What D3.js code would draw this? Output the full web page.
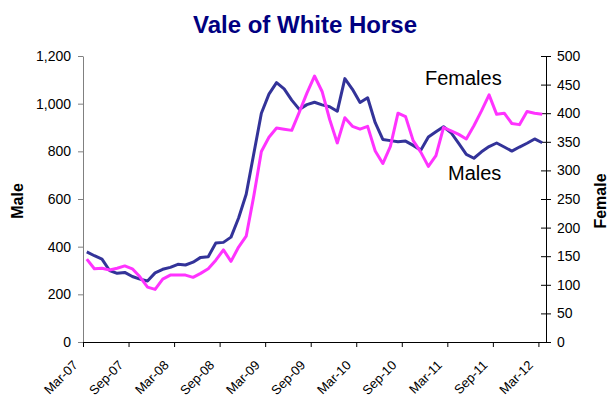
<!DOCTYPE html>
<html>
<head>
<meta charset="utf-8">
<script src="https://cdn.jsdelivr.net/npm/d3@7"></script>
<style>
  body { margin: 0; background: #fff; }
  text { font-family: "Liberation Sans", Arial, sans-serif; }
</style>
</head>
<body>
<div id="chart"></div>
<script>
var width = 615, height = 403;
var plot = {left: 83, right: 546, top: 56, bottom: 342};

// monthly, Mar-07 .. Mar-12 (61 months)
var tickLabels = ["Mar-07", "Sep-07", "Mar-08", "Sep-08", "Mar-09", "Sep-09",
                  "Mar-10", "Sep-10", "Mar-11", "Sep-11", "Mar-12"];
var monthCount = 61;

var males = [378, 362, 348, 300, 288, 292, 275, 264, 256, 290,
             305, 313, 326, 323, 335, 355, 358, 415, 418, 440,
             520, 620, 790, 960, 1040, 1088, 1062, 1015, 976, 996,
             1006, 995, 987, 968, 1105, 1060, 1005, 1025, 920, 850,
             845, 840, 843, 825, 805, 860, 882, 903, 878, 833,
             787, 771, 798, 820, 835, 818, 801, 818, 834, 852,
             836];

var females = [145, 128, 129, 126, 129, 133, 128, 114, 96, 92,
               110, 117, 117, 117, 113, 120, 128, 143, 161, 141,
               166, 185, 255, 333, 358, 374, 372, 370, 402, 435,
               465, 438, 389, 348, 392, 377, 372, 377, 334, 312,
               342, 400, 394, 352, 332, 307, 326, 375, 369, 363,
               355, 378, 404, 432, 398, 400, 382, 380, 403, 400,
               398];

var maleTicks = [0, 200, 400, 600, 800, 1000, 1200];
var femaleTicks = [0, 50, 100, 150, 200, 250, 300, 350, 400, 450, 500];

var svg = d3.select("#chart").append("svg")
  .attr("width", width)
  .attr("height", height);

var x = d3.scaleLinear().domain([0, monthCount]).range([plot.left, plot.right]);
var yMale = d3.scaleLinear().domain([0, 1200]).range([plot.bottom, plot.top]);
var yFemale = d3.scaleLinear().domain([0, 500]).range([plot.bottom, plot.top]);

// title
svg.append("text")
  .text("Vale of White Horse")
  .attr("x", 305)
  .attr("y", 33)
  .attr("text-anchor", "middle")
  .attr("font-size", "24px")
  .attr("font-weight", "bold")
  .attr("fill", "#000080");

// left axis (male)
var leftAxis = svg.append("g")
  .attr("transform", "translate(" + plot.left + ",0)")
  .call(d3.axisLeft(yMale).tickValues(maleTicks).tickFormat(d3.format(",")).tickSize(5).tickSizeOuter(0));
leftAxis.select(".domain").attr("stroke", "#808080");
leftAxis.selectAll(".tick line").attr("stroke", "#808080");
leftAxis.selectAll("text").attr("font-size", "14px").attr("fill", "#000").attr("x", -12);

// right axis (female), ticks crossing the line
var rightAxis = svg.append("g")
  .attr("transform", "translate(" + plot.right + ",0)")
  .call(d3.axisRight(yFemale).tickValues(femaleTicks).tickSize(5).tickSizeOuter(0));
rightAxis.selectAll(".tick line").attr("x1", -5).attr("x2", 5).attr("stroke", "#000");
rightAxis.select(".domain").attr("stroke", "#000");
rightAxis.selectAll("text").attr("font-size", "14px").attr("fill", "#000").attr("x", 11);

// bottom axis
var bottomAxis = svg.append("g")
  .attr("transform", "translate(0," + plot.bottom + ")")
  .call(d3.axisBottom(x)
    .tickValues(d3.range(0, monthCount, 6))
    .tickFormat(function(d, i) { return tickLabels[i]; })
    .tickSize(5).tickSizeOuter(0));
bottomAxis.select(".domain").attr("stroke", "#000");
bottomAxis.selectAll(".tick line").attr("stroke", "#000");
bottomAxis.selectAll("text")
  .attr("font-size", "13px")
  .attr("fill", "#000")
  .attr("text-anchor", "end")
  .attr("dy", null)
  .attr("x", 0)
  .attr("y", 0)
  .attr("transform", "translate(-5,24) rotate(-45)");

// axis titles
svg.append("text")
  .text("Male")
  .attr("transform", "translate(23,201) rotate(-90)")
  .attr("text-anchor", "middle")
  .attr("font-size", "16px")
  .attr("font-weight", "bold");

svg.append("text")
  .text("Female")
  .attr("transform", "translate(606,201) rotate(-90)")
  .attr("text-anchor", "middle")
  .attr("font-size", "16px")
  .attr("font-weight", "bold");

// lines
var maleLine = d3.line()
  .x(function(d, i) { return x(i + 0.5); })
  .y(function(d) { return yMale(d); });
var femaleLine = d3.line()
  .x(function(d, i) { return x(i + 0.5); })
  .y(function(d) { return yFemale(d); });

svg.append("path")
  .datum(males)
  .attr("d", maleLine)
  .attr("fill", "none")
  .attr("stroke", "#333399")
  .attr("stroke-width", 3)
  .attr("stroke-linejoin", "round");

svg.append("path")
  .datum(females)
  .attr("d", femaleLine)
  .attr("fill", "none")
  .attr("stroke", "#FF33FF")
  .attr("stroke-width", 3)
  .attr("stroke-linejoin", "round");

// series labels
svg.append("text")
  .text("Females")
  .attr("x", 425)
  .attr("y", 85)
  .attr("font-size", "20px")
  .attr("fill", "#000");

svg.append("text")
  .text("Males")
  .attr("x", 448)
  .attr("y", 180)
  .attr("font-size", "20px")
  .attr("fill", "#000");
</script>
</body>
</html>
